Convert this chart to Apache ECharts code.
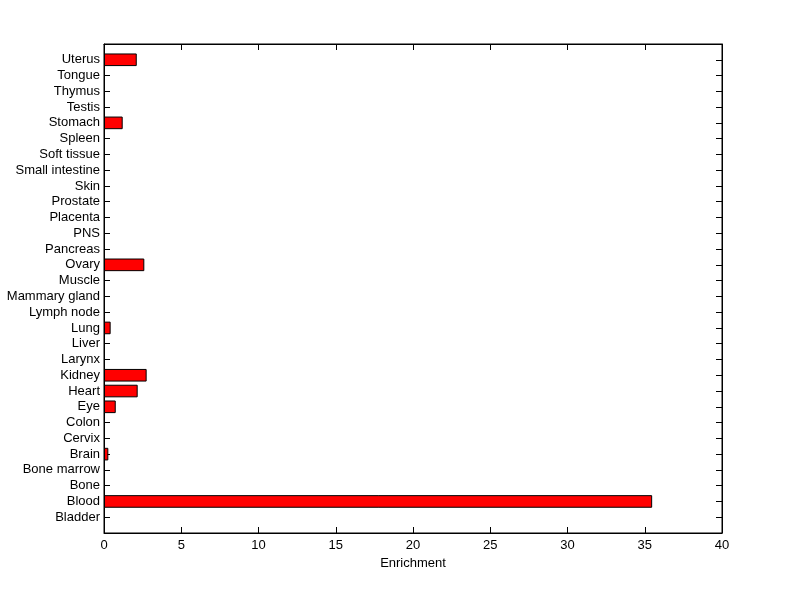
<!DOCTYPE html>
<html>
<head>
<meta charset="utf-8">
<script src="https://cdn.jsdelivr.net/npm/echarts@6/dist/echarts.min.js"></script>
<style>
  html, body { margin: 0; padding: 0; background: #fff; }
  #chart { width: 800px; height: 599px; }
</style>
</head>
<body>
<div id="chart"></div>
<script>
// tissues, bottom to top
const tissues = ['Bladder', 'Blood', 'Bone', 'Bone marrow', 'Brain', 'Cervix', 'Colon', 'Eye',
  'Heart', 'Kidney', 'Larynx', 'Liver', 'Lung', 'Lymph node', 'Mammary gland', 'Muscle',
  'Ovary', 'Pancreas', 'PNS', 'Placenta', 'Prostate', 'Skin', 'Small intestine',
  'Soft tissue', 'Spleen', 'Stomach', 'Testis', 'Thymus', 'Tongue', 'Uterus']
const enrichment = [0, 35.48, 0, 0, 0.28, 0, 0, 0.76,
  2.18, 2.76, 0, 0, 0.43, 0, 0, 0,
  2.61, 0, 0, 0, 0, 0, 0,
  0, 0, 1.21, 0, 0, 0, 2.12]
const xTicks = [0, 5, 10, 15, 20, 25, 30, 35, 40]

// pad an empty slot at both ends so the axis runs 0..31 like matlab
const cats = [''].concat(tissues, [''])
const vals = [null].concat(enrichment.map(v => (v > 0 ? v : null)), [null])
const lastIdx = cats.length - 1
const tickFn = (i) => i !== 0 && i !== lastIdx

const font = 'Liberation Sans, Arial, sans-serif'
const fs = 13
const line = { show: true, onZero: false, lineStyle: { color: '#000' } }
const tick = { show: true, inside: true, length: 6, lineStyle: { color: '#000' } }
const chart = echarts.init(document.getElementById('chart'))

chart.setOption({
  animation: false,
  backgroundColor: '#fff',
  grid: {
    left: 104, right: 78, top: 44, bottom: 66,
    show: true, borderColor: '#000', borderWidth: 1, backgroundColor: '#fff'
  },
  xAxis: [
    {
      type: 'value', min: xTicks[0], max: xTicks[xTicks.length - 1], interval: 5,
      name: 'Enrichment', nameLocation: 'middle', nameGap: 21,
      nameTextStyle: { color: '#000', fontSize: fs, fontFamily: font },
      axisLine: line,
      axisTick: tick,
      axisLabel: { color: '#000', fontSize: fs, fontFamily: font, margin: 6 },
      splitLine: { show: false }
    },
    {
      type: 'value', position: 'top', min: xTicks[0], max: xTicks[xTicks.length - 1], interval: 5,
      axisLine: line,
      axisTick: tick,
      axisLabel: { show: false },
      splitLine: { show: false }
    }
  ],
  yAxis: [
    {
      type: 'category', data: cats, boundaryGap: false,
      axisLine: line,
      axisTick: Object.assign({}, tick, { interval: tickFn }),
      axisLabel: { color: '#000', fontSize: fs, fontFamily: font, margin: 4, interval: 0 },
      splitLine: { show: false }
    },
    {
      // right side mirror ticks, 0..31 so ticks sit on the same rows
      type: 'value', position: 'right', min: 0, max: lastIdx, interval: 1,
      axisLine: line,
      axisTick: tick,
      axisLabel: { show: false },
      splitLine: { show: false }
    }
  ],
  series: [
    {
      type: 'bar',
      data: vals,
      barWidth: '80%',
      itemStyle: { color: '#ff0000', borderColor: '#000', borderWidth: 1 }
    }
  ]
})
</script>
</body>
</html>
